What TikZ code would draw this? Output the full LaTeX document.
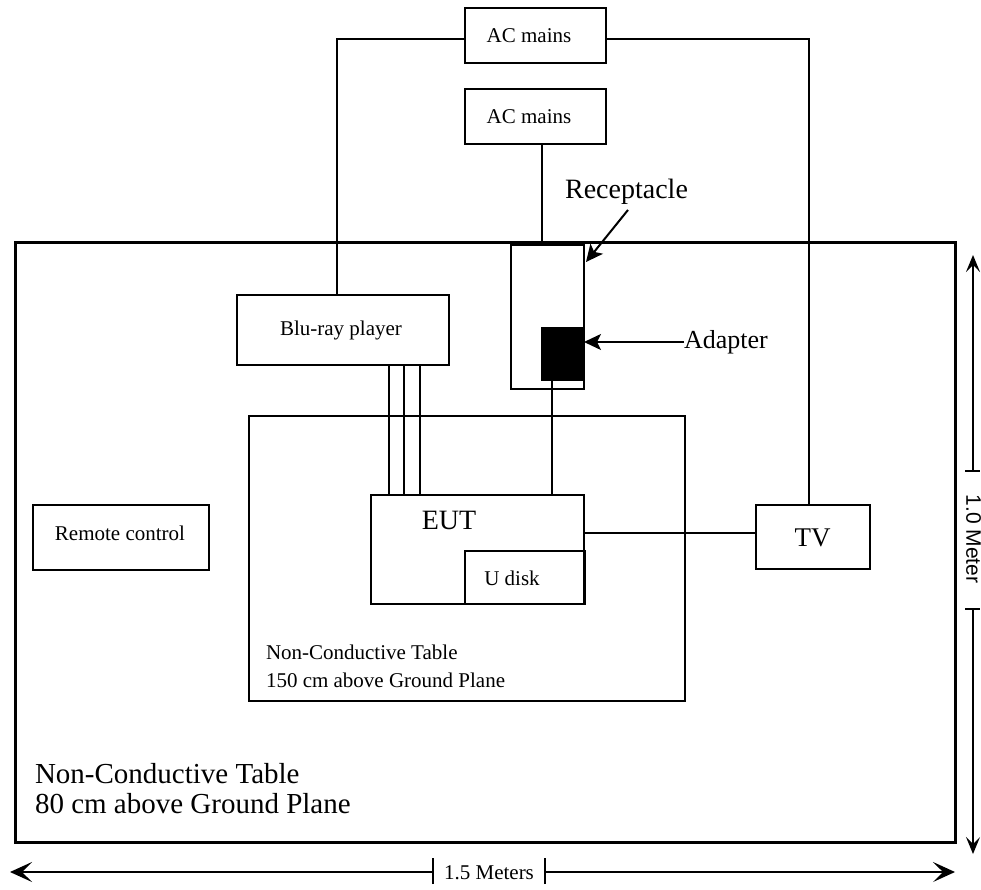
\documentclass[tikz,border=0pt]{standalone}
\usepackage{fontspec}
\setmainfont{Liberation Serif}
\newfontfamily\arialfont{Liberation Sans}
\usetikzlibrary{arrows.meta}
\begin{document}
\begin{tikzpicture}[x=1pt,y=-1pt,
  box/.style={draw, line width=1.6pt, inner sep=0pt, outer sep=0pt},
  wire/.style={line width=1.6pt},
  lbl/.style={inner sep=0pt, outer sep=0pt},
  bigfont/.style={font=\fontsize{29}{31}\selectfont},
  smallfont/.style={font=\fontsize{21}{24}\selectfont},
  arr/.style={line width=2pt, -{Stealth[length=17pt,width=16pt,inset=4pt]}},
  vdim/.style={line width=1.3pt, -{Stealth[length=17pt,width=14pt,inset=7pt]}},
  hdim/.style={line width=1.3pt, -{Stealth[length=22pt,width=20pt,inset=10pt]}}
]
\useasboundingbox (0,0) rectangle (981,890);

% outer table
\draw[line width=3pt] (15,243) rectangle (955,842);

% boxes
\node[box, minimum width=141pt, minimum height=55pt] (ac1) at (535.5,35.5) {};
\node[lbl, smallfont] at (529,35.5) {AC mains};
\node[box, minimum width=141pt, minimum height=55pt] (ac2) at (535.5,116.5) {};
\node[lbl, smallfont] at (529,116.5) {AC mains};
\node[box, minimum width=212pt, minimum height=70pt] (blu) at (343,330) {};
\node[lbl, smallfont] at (341,330) {Blu-ray player};
\node[box, minimum width=73pt, minimum height=144pt] (rec) at (547.5,317) {};
\node[fill=black, inner sep=0pt, outer sep=0pt, minimum width=43pt, minimum height=54pt] (ad) at (562.5,354) {};
\node[box, minimum width=436pt, minimum height=285pt] (inner) at (467,558.5) {};
\node[box, minimum width=213pt, minimum height=109pt] (eut) at (477.5,549.5) {};
\node[lbl, font=\fontsize{28}{30}\selectfont, anchor=base] at (449,529) {EUT};
\node[box, minimum width=120pt, minimum height=53pt] (udisk) at (525,577.5) {};
\node[lbl, smallfont, anchor=base] at (512,585) {U disk};
\node[box, minimum width=114pt, minimum height=64pt] (tv) at (813,537) {};
\node[lbl, font=\fontsize{27}{30}\selectfont, anchor=base] at (812.5,546) {TV};
\node[box, minimum width=176pt, minimum height=65pt] (remote) at (121,537.5) {};
\node[lbl, smallfont, anchor=base] at (120,540) {Remote control};

% table texts
\node[lbl, smallfont, anchor=base west] at (266,659) {Non-Conductive Table};
\node[lbl, smallfont, anchor=base west] at (266,687) {150 cm above Ground Plane};
\node[lbl, bigfont, anchor=base west] at (35,783) {Non-Conductive Table};
\node[lbl, bigfont, anchor=base west] at (35,813) {80 cm above Ground Plane};

% wires
\coordinate (cL) at (337,39);
\coordinate (cR) at (809,39);
\draw[wire] (ac1.west |- cL) -- (cL) -- (cL |- blu.north);
\draw[wire] (ac1.east |- cR) -- (cR) -- (cR |- tv.north);
\coordinate (cM) at (542,0);
\draw[wire] (ac2.south -| cM) -- (rec.north -| cM);
\coordinate (cA) at (552,0);
\draw[wire] (ad.south -| cA) -- (eut.north -| cA);
\foreach \xx in {389,404,420} {
  \coordinate (cb) at (\xx,0);
  \draw[wire] (blu.south -| cb) -- (eut.north -| cb);
}
\coordinate (cT) at (0,533);
\draw[wire] (eut.east |- cT) -- (tv.west |- cT);

% labels with arrows
\node[lbl, font=\fontsize{28}{30}\selectfont, anchor=base] (reclbl) at (626.5,199) {Receptacle};
\coordinate (rtip) at (586,262);
\draw[arr] ([shift={(1.5,5)}]reclbl.south) -- (rtip);
\node[lbl, font=\fontsize{26}{28}\selectfont, anchor=base west] (adlbl) at (684,348) {Adapter};
\coordinate (cAd) at (0,342);
\draw[arr] (adlbl.west |- cAd) -- (ad.east |- cAd);

% horizontal dimension
\node[lbl, smallfont] (hlab) at (489,873) {1.5 Meters};
\coordinate (ht1) at (433,872);
\coordinate (ht2) at (545,872);
\coordinate (hl) at (10,872);
\coordinate (hr) at (955,872);
\draw[hdim] (ht1) -- (hl);
\draw[hdim] (ht2) -- (hr);
\draw[line width=1.3pt] ([yshift=-12]ht1) -- ([yshift=14]ht1);
\draw[line width=1.3pt] ([yshift=-12]ht2) -- ([yshift=14]ht2);

% vertical dimension
\node[lbl, font=\arialfont\fontsize{21}{24}\selectfont, rotate=-90] (vlab) at (973.5,539) {1.0 Meter};
\coordinate (vt1) at (973,471);
\coordinate (vt2) at (973,609);
\coordinate (vtop) at (973,255);
\coordinate (vbot) at (973,854);
\draw[vdim] (vt1) -- (vtop);
\draw[vdim] (vt2) -- (vbot);
\draw[line width=1.3pt] ([xshift=-8]vt1) -- ([xshift=7]vt1);
\draw[line width=1.3pt] ([xshift=-8]vt2) -- ([xshift=7]vt2);
\end{tikzpicture}
\end{document}
